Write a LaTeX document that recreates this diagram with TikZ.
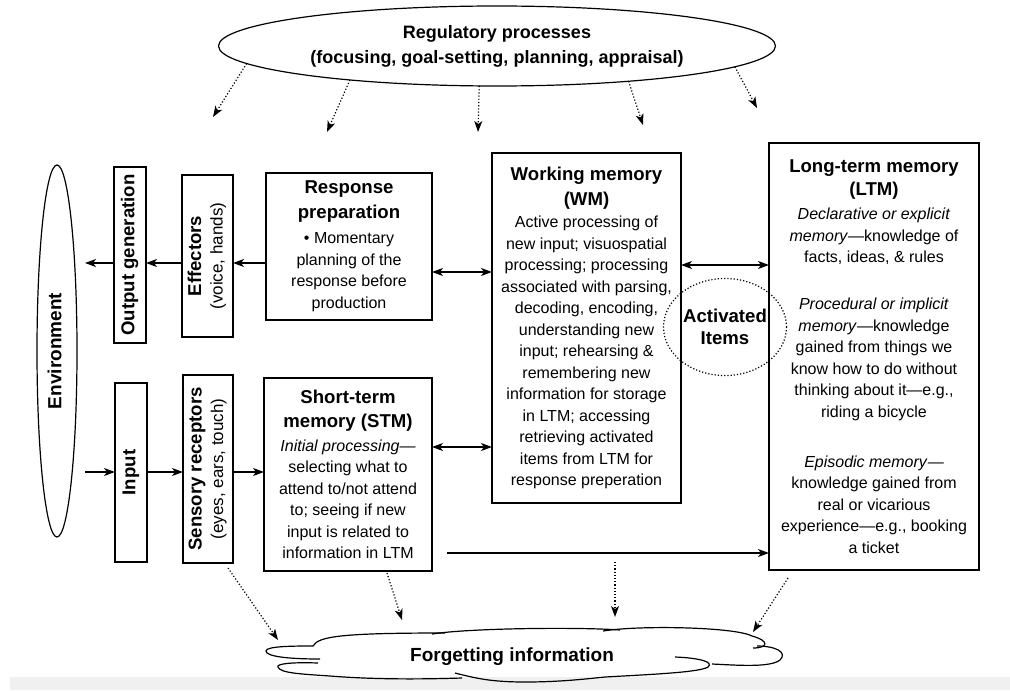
\documentclass[tikz,border=0pt]{standalone}
\usepackage{graphicx}
\usepackage{fontspec}
\setmainfont{Liberation Sans}
\usepackage{tikz}
\usetikzlibrary{arrows.meta}
\usetikzlibrary{calc}
\usetikzlibrary{positioning}
\usetikzlibrary{shapes.geometric}

\newcommand{\hd}[1]{{\fontsize{9.3}{12}\selectfont\bfseries #1}}
\newcommand{\side}[1]{\rotatebox{90}{\begin{tabular}{@{}c@{}}#1\end{tabular}}}

\begin{document}
\begin{tikzpicture}[
	x=0.5pt, y=-0.5pt,
  > = {Stealth[length=5.5pt,width=4pt,inset=1.5pt]},
  every node/.style={inner sep=0pt, outer sep=0pt},
  box/.style = {draw, line width=0.6pt, align=center, font=\fontsize{8}{10.75}\selectfont},
  conn/.style = {->, line width=0.6pt},
  both/.style = {<->, line width=0.6pt},
  dots/.style = {->, densely dotted, line width=0.6pt},
  puff/.style = {line width=0.6pt}
  ]
	\useasboundingbox (0,0) rectangle (1010,690);
	\fill[black!6] (10,677) rectangle (1010,690);

	\node[box, ellipse, minimum width=278.5pt, minimum height=40pt, font=\fontsize{9}{12.5}\selectfont\bfseries] (reg) at (497,46) {Regulatory processes\\(focusing, goal-setting, planning, appraisal)};
	\node[box, ellipse, minimum width=20pt, minimum height=186pt] (env) at (57,351) {\side{\fontsize{9.5}{11}\selectfont\bfseries Environment}};

	\node[box, minimum width=16pt, minimum height=88pt] (out) at (130,255) {\side{\hd{Output generation}}};
	\node[box, minimum width=25.5pt, minimum height=81pt] (eff) at (207.5,256) {\side{\hd{Effectors}\\{\fontsize{8.5}{10}\selectfont(voice, hands)}}};
	\node[box, minimum width=83pt, minimum height=73.5pt] (resp) at (349,246.5) {\hd{Response}\\[1.75pt]\hd{preparation}\\[1.75pt]• Momentary\\planning of the\\response before\\production};

	\node[box, minimum width=16pt, minimum height=89.5pt] (inp) at (131,472.5) {\side{\hd{Input}}};
	\node[box, minimum width=25pt, minimum height=94pt] (sens) at (208,469) {\side{\hd{Sensory receptors}\\{\fontsize{8.5}{10}\selectfont(eyes, ears, touch)}}};
	\node[box, minimum width=84pt, minimum height=96.5pt] (stm) at (348,474.5) {\hd{Short-term}\\[1.25pt]\hd{memory (STM)}\\[1.25pt]\textit{Initial processing}—\\selecting what to\\attend to/not attend\\to; seeing if new\\input is related to\\information in LTM};

	\node[box, minimum width=94.5pt, minimum height=175pt] (wm) at (586.5,328) {\hd{Working memory}\\[1.75pt]\hd{(WM)}\\[0.25pt]Active processing of\\new input; visuospatial\\processing; processing\\associated with parsing,\\decoding, encoding,\\understanding new\\input; rehearsing \&\\remembering new\\information for storage\\in LTM; accessing\\retrieving activated\\items from LTM for\\response preperation};
	\node[box, minimum width=105pt, minimum height=213.5pt] (ltm) at (874,356.5) {\hd{Long-term memory}\\[0.75pt]\hd{(LTM)}\\[1.25pt]\textit{Declarative or explicit}\\\textit{memory}—knowledge of\\facts, ideas, \& rules\\[12.75pt]\textit{Procedural or implicit}\\\textit{memory}—knowledge\\gained from things we\\know how to do without\\thinking about it—e.g.,\\riding a bicycle\\[14.25pt]\textit{Episodic memory}—\\knowledge gained from\\real or vicarious\\experience—e.g., booking\\a ticket};

	\node[box, ellipse, densely dotted, minimum width=61.5pt, minimum height=48.5pt, font=\fontsize{9.3}{11}\selectfont\bfseries] (act) at (725,327) {Activated\\Items};
	\node[font=\fontsize{9.5}{11}\selectfont\bfseries] (fog) at (512,657) {Forgetting information};

	% cloud round fog
	\draw[puff] (320,659) .. controls (285,659) and (266,656) .. (266,651) .. controls (266,646) and (295,646) .. (313,646) .. controls (318,636) and (345,633) .. (445,633);
	\draw[puff] (432,634) .. controls (470,628) and (580,627) .. (620,630);
	\draw[puff] (603,631) .. controls (640,625) and (735,627) .. (752,636) .. controls (770,641) and (768,648) .. (753,648);
	\draw[puff] (757,646) .. controls (775,646) and (788,652) .. (780,660) .. controls (770,668) and (735,665) .. (712,664);
	\draw[puff] (675,657) .. controls (700,658) and (714,662) .. (708,667) .. controls (700,672) and (660,674) .. (605,677) .. controls (585,679) and (560,682) .. (525,682) .. controls (490,682) and (475,678) .. (455,673);
	\draw[puff] (318,663) .. controls (290,662) and (276,664) .. (278,667) .. controls (280,673) and (300,674) .. (330,676) .. controls (380,680) and (430,679) .. (462,678);

	\coordinate (envout) at (85,263);
	\coordinate (envin) at (85,472);
	\coordinate (stmgap) at (447,553);
	\coordinate (wmfade) at (615,562);

	\coordinate (r1) at (213,117);
	\coordinate (r2) at (327,132);
	\coordinate (r3) at (478,132);
	\coordinate (r4) at (643,125);
	\coordinate (r5) at (757,108);

	\coordinate (f1) at (278,640);
	\coordinate (f2) at (402,620);
	\coordinate (f3) at (615,617);
	\coordinate (f4) at (753,632);

	\draw[conn] (resp.west |- 0,263) -- (eff.east |- 0,263);
	\draw[conn] (eff.west |- 0,263) -- (out.east |- 0,263);
	\draw[conn] (out.west |- 0,263) -- (envout);

	\draw[conn] (envin) -- (inp.west |- 0,472);
	\draw[conn] (inp.east |- 0,472) -- (sens.west |- 0,472);
	\draw[conn] (sens.east |- 0,472) -- (stm.west |- 0,472);

	\draw[both] (resp.east |- 0,272) -- (wm.west |- 0,272);
	\draw[both] (stm.east |- 0,447) -- (wm.west |- 0,447);
	\draw[both] (wm.east |- 0,265) -- (ltm.west |- 0,265);
	\draw[conn] (stmgap) -- (ltm.west |- stmgap);

	\draw[dots] (reg.184) -- (r1);
	\draw[dots] (reg.193) -- (r2);
	\draw[dots] (reg.246) -- (r3);
	\draw[dots] (reg.345) -- (r4);
	\draw[dots] (reg.355) -- (r5);

	\draw[dots] ([xshift=-2.5pt,yshift=-2.5pt]sens.south east) -- (f1);
	\draw[dots] ([xshift=19.5pt,yshift=-1pt]stm.south) -- (f2);
	\draw[dots] (wmfade) -- (f3);
	\draw[dots] ([xshift=9.5pt,yshift=-4pt]ltm.south west) -- (f4);
\end{tikzpicture}
\end{document}
